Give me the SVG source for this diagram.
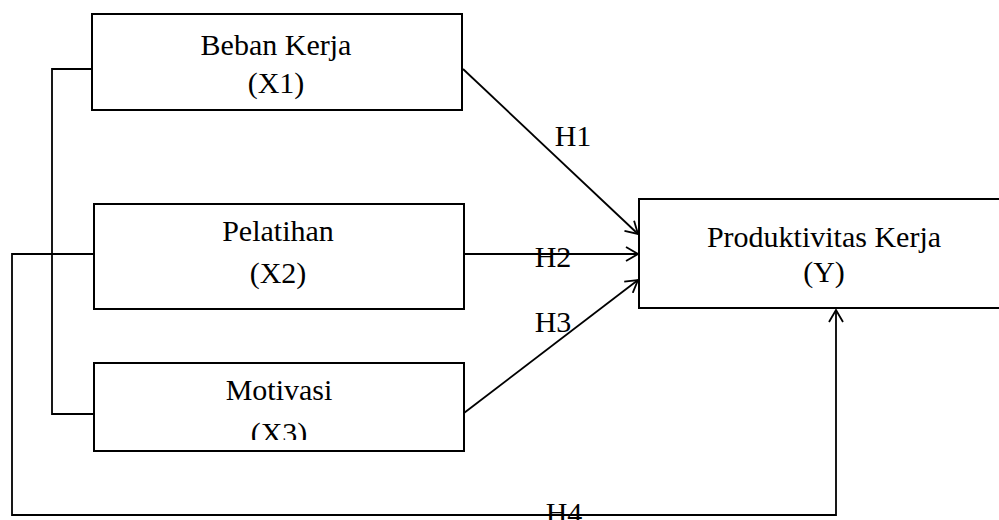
<svg xmlns="http://www.w3.org/2000/svg" width="999" height="520" viewBox="0 0 999 520">
<style>
.box{fill:#fff;stroke:#000;stroke-width:2}
.ln{fill:none;stroke:#000;stroke-width:1.8}
text{font-family:"Liberation Serif","Times New Roman",serif;font-size:30px;fill:#000;text-anchor:middle}
</style>
<defs>
<marker id="arr" viewBox="0 0 14 16" refX="13" refY="8" markerWidth="14" markerHeight="16" markerUnits="userSpaceOnUse" orient="auto">
<path d="M1,1 L13,8 L1,15" fill="none" stroke="#000" stroke-width="1.8"/>
</marker>
<clipPath id="c3"><rect x="94" y="363" width="370" height="77"/></clipPath>
</defs>
<rect width="999" height="520" fill="#fff"/>
<g id="connectors">
<polyline class="ln" points="92,69 52,69 52,414 94,414"/>
<polyline class="ln" points="94,254 12,254 12,515 836,515 836,310" marker-end="url(#arr)"/>
<line class="ln" x1="463" y1="69" x2="638" y2="234" marker-end="url(#arr)"/>
<line class="ln" x1="464" y1="254" x2="638" y2="254" marker-end="url(#arr)"/>
<line class="ln" x1="464" y1="413" x2="638" y2="280" marker-end="url(#arr)"/>
<text x="573" y="146">H1</text>
<text x="553" y="267">H2</text>
<text x="553" y="332">H3</text>
<text x="564" y="523">H4</text>
</g>
<g id="x1">
<rect class="box" x="92" y="14" width="370" height="96"/>
<text x="276" y="55">Beban Kerja</text>
<text x="276" y="93">(X1)</text>
</g>
<g id="x2">
<rect class="box" x="94" y="204" width="370" height="105"/>
<text x="278" y="241">Pelatihan</text>
<text x="278" y="283">(X2)</text>
</g>
<g id="x3">
<rect class="box" x="94" y="363" width="370" height="88"/>
<text x="279" y="400">Motivasi</text>
<text x="279" y="443" clip-path="url(#c3)">(X3)</text>
</g>
<g id="y">
<rect class="box" x="639" y="199" width="380" height="109"/>
<text x="824" y="247">Produktivitas Kerja</text>
<text x="824" y="282">(Y)</text>
</g>
</svg>
